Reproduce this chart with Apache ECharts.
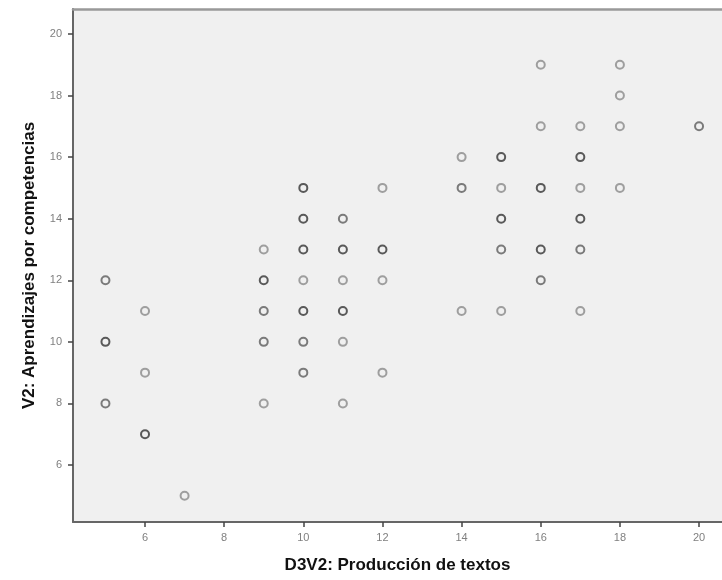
<!DOCTYPE html>
<html>
<head>
<meta charset="utf-8">
<script src="https://cdn.jsdelivr.net/npm/echarts@6/dist/echarts.min.js"></script>
<style>
html,body{margin:0;padding:0;background:#ffffff;}
#chart{width:722px;height:580px;}
</style>
</head>
<body>
<div id="chart"></div>
<script>
// D3V2: Producción de textos (x), V2: Aprendizajes por competencias (y)
var pointsX = [5,5,5, 6,6,6, 7, 9,9,9,9,9, 10,10,10,10,10,10,10, 11,11,11,11,11,11, 12,12,12,12, 14,14,14, 15,15,15,15,15, 16,16,16,16,16, 17,17,17,17,17,17, 18,18,18,18, 20];
var pointsY = [12,10,8, 11,9,7, 5, 13,12,11,10,8, 15,14,13,12,11,10,9, 14,13,12,11,10,8, 15,13,12,9, 16,15,11, 16,15,14,13,11, 19,17,15,13,12, 17,16,15,14,13,11, 19,18,17,15, 17];
var pointsN = [2,3,2, 1,1,3, 1, 1,3,2,2,1, 3,3,3,1,3,2,2, 2,3,1,3,1,1, 1,3,1,1, 1,2,1, 3,1,3,2,1, 1,1,3,3,2, 1,3,1,3,2,1, 1,1,1,1, 2];
var xTicks = [6,8,10,12,14,16,18,20];
var yTicks = [6,8,10,12,14,16,18,20];

var levelColor = {1:'#8a8a8a', 2:'#5c5c5c', 3:'#333333'};
var data = pointsX.map(function(x,i){
  return {value:[x, pointsY[i]], itemStyle:{borderColor: levelColor[pointsN[i]]}};
});

var font = 'Liberation Sans, Arial, sans-serif';
var chart = echarts.init(document.getElementById('chart'), null, {renderer:'canvas'});
chart.setOption({
  backgroundColor:'#ffffff',
  animation:false,
  grid:{left:73, top:9, right:0, bottom:58, show:true, backgroundColor:'#f0f0f0', borderWidth:0},
  xAxis:[{
    type:'value', min:4.18, max:20.58,
    name:'D3V2: Producción de textos', nameLocation:'middle', nameGap:35,
    nameTextStyle:{fontFamily:font, fontWeight:'bold', fontSize:17, color:'#111'},
    axisLine:{show:true, onZero:false, lineStyle:{color:'#666', width:2}},
    axisTick:{show:true, length:5, customValues:xTicks, lineStyle:{color:'#444', width:1.5}},
    axisLabel:{customValues:xTicks, color:'#808080', fontSize:11, margin:10, fontFamily:font},
    splitLine:{show:false}
  },{
    type:'value', min:4.18, max:20.58, position:'top',
    axisLine:{show:true, onZero:false, lineStyle:{color:'#999', width:2.5}},
    axisTick:{show:false}, axisLabel:{show:false}, splitLine:{show:false}
  }],
  yAxis:{
    type:'value', min:4.15, max:20.81,
    name:'V2: Aprendizajes por competencias', nameLocation:'middle', nameGap:35,
    nameTextStyle:{fontFamily:font, fontWeight:'bold', fontSize:17, color:'#111'},
    axisLine:{show:true, onZero:false, lineStyle:{color:'#666', width:2}},
    axisTick:{show:true, length:5, customValues:yTicks, lineStyle:{color:'#444', width:1.5}},
    axisLabel:{customValues:yTicks, color:'#808080', fontSize:11, margin:11, fontFamily:font},
    splitLine:{show:false}
  },
  series:[{
    type:'scatter',
    symbol:'circle',
    symbolSize:8,
    itemStyle:{color:'rgba(0,0,0,0)', borderWidth:2, borderColor:'#8a8a8a'},
    data:data
  }]
});
</script>
</body>
</html>
